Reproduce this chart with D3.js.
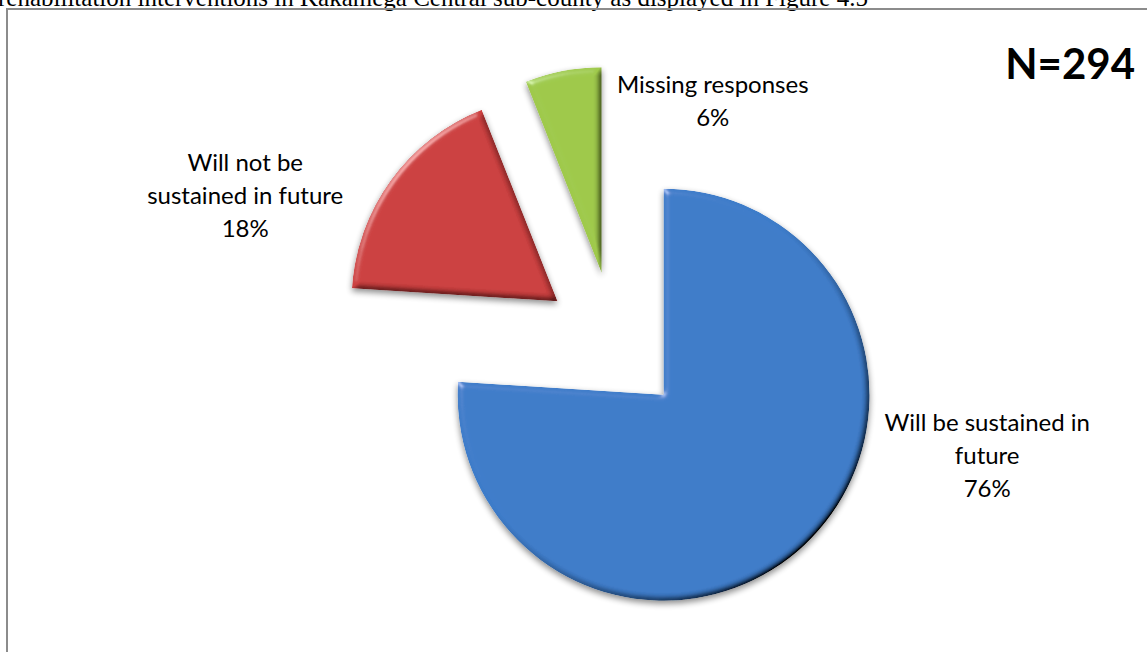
<!DOCTYPE html>
<html>
<head>
<meta charset="utf-8">
<script src="https://cdn.jsdelivr.net/npm/d3@7"></script>
<style>
  html, body { margin: 0; padding: 0; background: #fff; overflow: hidden; }
</style>
</head>
<body>
<script>
// data (N=294)
const categories = ["Will be sustained in future", "Will not be sustained in future", "Missing responses"];
const percents = [76, 18, 6];
const labelLines = [
    ["Will be sustained in", "future", "76%"],
    ["Will not be", "sustained in future", "18%"],
    ["Missing responses", "6%"]
];
const sampleNote = "N=294";
const captionText = "rehabilitation interventions in Kakamega Central sub-county as displayed in Figure 4.5";

const colors = ["#3e7cc9", "#cc4040", "#9fc94c"];

const width = 1147, height = 652;
const cx = 615, cy = 343, radius = 206, explode = 71;
// label placement (angle in degrees clockwise from top, distance from pie centre)
const labelPlace = [
    { angle: 106.9, dist: 389 },
    { angle: 291.7, dist: 398 },
    { angle: 22, dist: 261 }
];

const svg = d3.select("body")
    .append("svg")
    .attr("width", width)
    .attr("height", height);

// soft bevel + shadow, something like the office look
const defs = svg.append("defs");
const f = defs.append("filter")
    .attr("id", "bevel")
    .attr("x", "-20%").attr("y", "-20%")
    .attr("width", "140%").attr("height", "140%");
f.append("feGaussianBlur").attr("in", "SourceAlpha").attr("stdDeviation", 3).attr("result", "blur");
f.append("feDiffuseLighting")
    .attr("in", "blur").attr("surfaceScale", 3).attr("diffuseConstant", 1.74)
    .attr("lighting-color", "#fff").attr("result", "diff")
    .append("feDistantLight").attr("azimuth", 225).attr("elevation", 35);
f.append("feSpecularLighting")
    .attr("in", "blur").attr("surfaceScale", 3).attr("specularConstant", 0.6)
    .attr("specularExponent", 40).attr("lighting-color", "#fff").attr("result", "spec")
    .append("feDistantLight").attr("azimuth", 225).attr("elevation", 35);
f.append("feComposite").attr("in", "SourceGraphic").attr("in2", "diff")
    .attr("operator", "arithmetic").attr("k1", 1).attr("k2", 0).attr("k3", 0).attr("k4", 0)
    .attr("result", "shaded");
f.append("feComposite").attr("in", "spec").attr("in2", "SourceAlpha")
    .attr("operator", "in").attr("result", "specIn");
f.append("feComposite").attr("in", "shaded").attr("in2", "specIn")
    .attr("operator", "arithmetic").attr("k1", 0).attr("k2", 1).attr("k3", 0.5).attr("k4", 0)
    .attr("result", "lit");
f.append("feComposite").attr("in", "lit").attr("in2", "SourceAlpha").attr("operator", "in").attr("result", "litIn");
f.append("feGaussianBlur").attr("in", "SourceAlpha").attr("stdDeviation", 3).attr("result", "sb");
f.append("feOffset").attr("in", "sb").attr("dx", 0).attr("dy", 3).attr("result", "so");
f.append("feComponentTransfer").attr("in", "so").attr("result", "sh")
    .append("feFuncA").attr("type", "linear").attr("slope", 0.45);
const m = f.append("feMerge");
m.append("feMergeNode").attr("in", "sh");
m.append("feMergeNode").attr("in", "litIn");

// caption line cut off at top
svg.append("text")
    .attr("x", -2)
    .attr("y", 6)
    .attr("font-family", "Liberation Serif, Times New Roman, serif")
    .attr("font-size", "25px")
    .attr("fill", "#000")
    .text(captionText);

// chart border
svg.append("rect")
    .attr("x", 7)
    .attr("y", 9)
    .attr("width", width + 20)
    .attr("height", height + 20)
    .attr("fill", "none")
    .attr("stroke", "#8c8c8c")
    .attr("stroke-width", 2);

const pie = d3.pie().sort(null).value(d => d);
const arcs = pie(percents);
const arc = d3.arc().innerRadius(0).outerRadius(radius);

const g = svg.append("g").attr("transform", `translate(${cx},${cy})`);

g.selectAll("path.slice")
    .data(arcs)
    .join("path")
    .attr("class", "slice")
    .attr("d", arc)
    .attr("fill", (d, i) => colors[i])
    .attr("filter", "url(#bevel)")
    .attr("transform", d => {
        const a = (d.startAngle + d.endAngle) / 2;
        return `translate(${explode * Math.sin(a)},${-explode * Math.cos(a)})`;
    });

// data labels
const lineH = 33;
g.selectAll("text.lbl")
    .data(arcs)
    .join("text")
    .attr("class", "lbl")
    .attr("text-anchor", "middle")
    .attr("font-family", "Lato, Open Sans, sans-serif")
    .attr("font-size", "24px")
    .attr("fill", "#000")
    .each(function(d, i) {
        const p = labelPlace[i];
        const a = p.angle * Math.PI / 180;
        const x = p.dist * Math.sin(a);
        const y = -p.dist * Math.cos(a);
        const lines = labelLines[i];
        const top = y - (lines.length - 1) * lineH / 2;
        d3.select(this).selectAll("tspan")
            .data(lines)
            .join("tspan")
            .attr("x", x)
            .attr("y", (t, j) => top + j * lineH)
            .attr("dy", "0.35em")
            .text(t => t);
    });

svg.append("text")
    .attr("x", 1135)
    .attr("y", 79)
    .attr("text-anchor", "end")
    .attr("font-family", "Lato, Open Sans, sans-serif")
    .attr("font-weight", "bold")
    .attr("font-size", "42px")
    .attr("fill", "#000")
    .text(sampleNote);
</script>
</body>
</html>
